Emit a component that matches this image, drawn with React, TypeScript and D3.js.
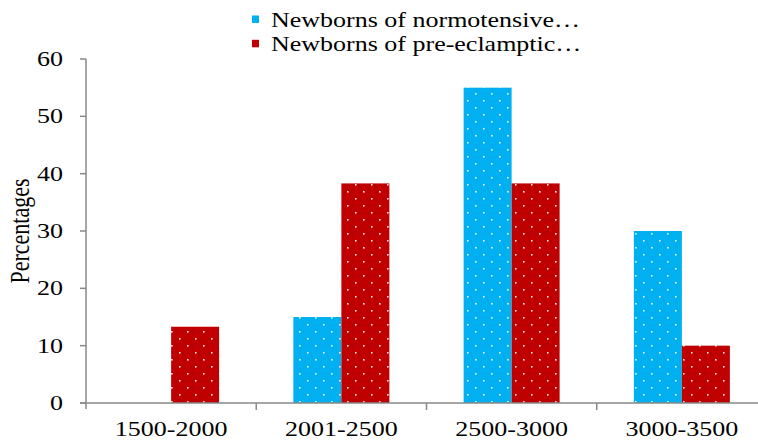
import React from "react";
import * as d3 from "d3";

const categories = ["1500-2000", "2001-2500", "2500-3000", "3000-3500"];
const seriesNames = ["Newborns of normotensive…", "Newborns of pre-eclamptic…"];
const normotensive = [0, 15, 55, 30];
const preEclamptic = [13.3, 38.3, 38.3, 10];
const yTicks = [0, 10, 20, 30, 40, 50, 60];
const colors = ["#00B0F0", "#C00000"];

const font = "Liberation Serif, Tinos, DejaVu Serif, Times New Roman, serif";

function SText(props: {
  x: number;
  y: number;
  sx: number;
  size: number;
  anchor?: string;
  rotate?: number;
  children: React.ReactNode;
}) {
  const { x, y, sx, size, anchor = "start", rotate = 0, children } = props;
  return (
    <text
      transform={`translate(${x},${y}) scale(${sx},1) rotate(${rotate})`}
      textAnchor={anchor}
      style={{ fontFamily: font }}
      fontSize={size}
      fill="#000"
    >
      {children}
    </text>
  );
}

export default function App() {
  const W = 758, H = 443;
  const x0 = 86, x1 = 767;
  const yTop = 59, yBot = 403;
  const x = d3.scaleBand<string>().domain(categories).range([x0, x1]);
  const y = d3.scaleLinear().domain([0, 60]).range([yBot, yTop]);
  const barW = 48;
  const series = [normotensive, preEclamptic];
  return (
    <svg width={W} height={H} style={{ position: "absolute", left: 0, top: 0, fontFamily: font }}>
      <defs>
        {colors.map((c, i) => (
          <pattern key={i} id={`dots${i}`} width={16} height={14} patternUnits="userSpaceOnUse" x={3} y={2}>
            <rect width={16} height={14} fill={c} />
            <rect x={0} y={0} width={1.6} height={1.6} fill="#fff" opacity={0.9} />
            <rect x={8} y={7} width={1.6} height={1.6} fill="#fff" opacity={0.9} />
          </pattern>
        ))}
      </defs>
      <rect width={W} height={H} fill="#fff" />
      {series.map((vals, si) =>
        vals.map((v, ci) => {
          const cx = (x(categories[ci]) as number) + x.bandwidth() / 2;
          const bx = si === 0 ? cx - barW : cx;
          if (v <= 0) return null;
          return (
            <rect key={`${si}-${ci}`} x={bx} y={y(v)} width={barW} height={yBot - y(v)} fill={`url(#dots${si})`} />
          );
        })
      )}
      <line x1={x0} x2={x0} y1={yTop} y2={yBot + 6} stroke="#888" strokeWidth={1.5} />
      <line x1={x0 - 6} x2={x1} y1={yBot} y2={yBot} stroke="#888" strokeWidth={1.5} />
      {yTicks.map((t) => (
        <g key={t}>
          <line x1={x0 - 6} x2={x0} y1={y(t)} y2={y(t)} stroke="#888" strokeWidth={1.5} />
          <SText x={63} y={y(t) + 7} sx={1.24} size={21} anchor="end">
            {t}
          </SText>
        </g>
      ))}
      {categories.map((c, i) => (
        <g key={c}>
          {i > 0 && (
            <line x1={x(c)} x2={x(c)} y1={yBot} y2={yBot + 7} stroke="#888" strokeWidth={1.5} />
          )}
          <SText x={(x(c) as number) + x.bandwidth() / 2} y={436} sx={1.24} size={21} anchor="middle">
            {c}
          </SText>
        </g>
      ))}
      <SText x={28.5} y={231} sx={1.2} size={22} anchor="middle" rotate={-90}>
        Percentages
      </SText>
      {seriesNames.map((n, i) => (
        <g key={n}>
          <rect x={252} y={15.5 + i * 24.3} width={7} height={7.5} fill={colors[i]} />
          <SText x={271} y={26.5 + i * 24} sx={1.3} size={20}>
            {n}
          </SText>
        </g>
      ))}
    </svg>
  );
}
